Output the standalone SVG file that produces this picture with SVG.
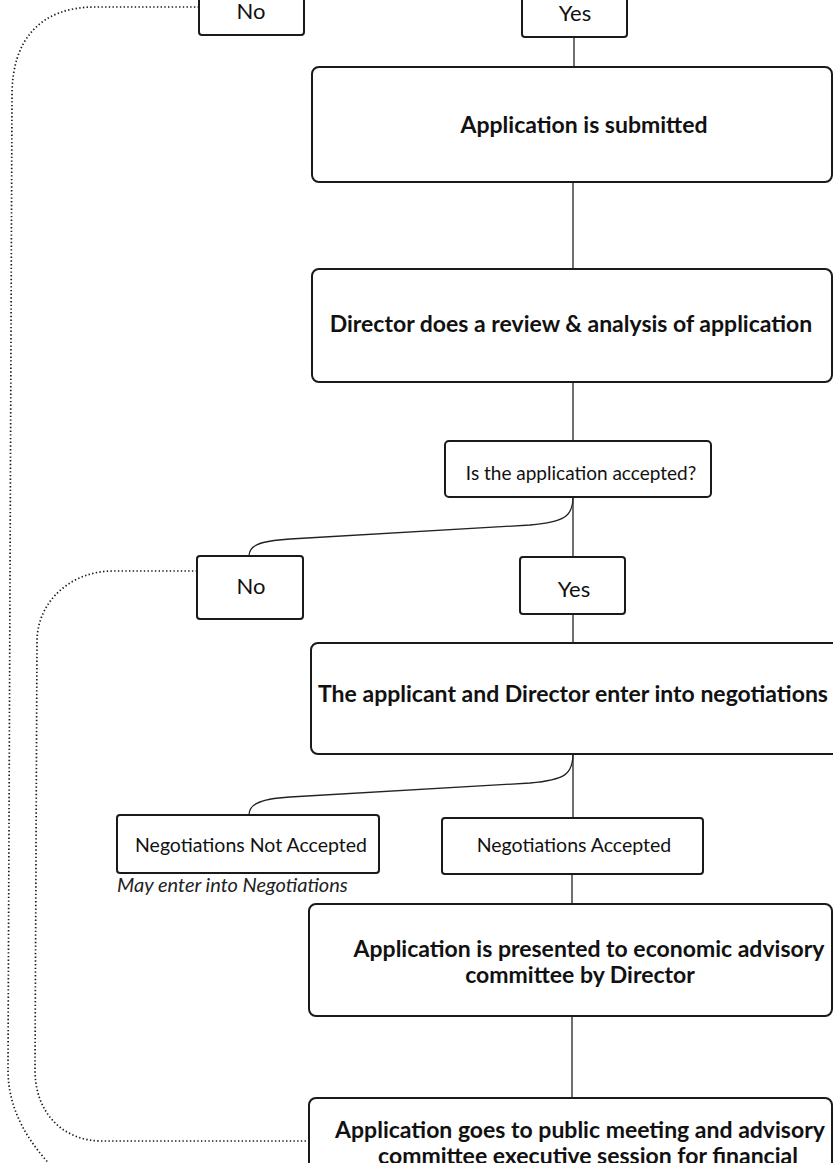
<svg xmlns="http://www.w3.org/2000/svg" width="833" height="1163" viewBox="0 0 833 1163">
<style>
.box{fill:#fff;stroke:#1a1a1a;stroke-width:2}
.conn{fill:none;stroke:#222;stroke-width:1.3}
.dot{fill:none;stroke:#1a1a1a;stroke-width:1.7;stroke-dasharray:1.4 2.3}
.b{font-family:Lato,"Liberation Sans",sans-serif;font-weight:bold;font-size:23px;fill:#111;text-anchor:middle}
.r{font-family:Lato,"Liberation Sans",sans-serif;font-size:19.5px;fill:#111;text-anchor:middle}
.q{font-family:Lato,"Liberation Sans",sans-serif;font-size:19px;fill:#111;text-anchor:middle}
.yn{font-family:Lato,"Liberation Sans",sans-serif;font-size:22px;fill:#111;text-anchor:middle}
.it{font-family:Lato,"Liberation Sans",sans-serif;font-style:italic;font-size:20px;fill:#222}
</style>
<rect width="833" height="1163" fill="#fff"/>
<g id="connectors">
<line class="conn" x1="574" y1="37" x2="574" y2="67"/>
<line class="conn" x1="573" y1="182" x2="573" y2="269"/>
<line class="conn" x1="573" y1="382" x2="573" y2="441"/>
<path class="conn" d="M573,497 C573,516 565,522 530,525 L290,539 C256,541 249,547 249,556"/>
<line class="conn" x1="573" y1="497" x2="573" y2="557"/>
<line class="conn" x1="573" y1="614" x2="573" y2="643"/>
<path class="conn" d="M573,754 C573,774 565,780 530,783 L290,797 C256,799 249,806 249,815"/>
<line class="conn" x1="573" y1="754" x2="573" y2="818"/>
<line class="conn" x1="572" y1="874" x2="572" y2="904"/>
<line class="conn" x1="572" y1="1016" x2="572" y2="1098"/>
<path class="dot" d="M199,7 L95,7 C40,7 12,40 12,95 L8,1070 C8,1110 28,1142 55,1170"/>
<path class="dot" d="M197,571 L113,571 C72,571 38,600 37,640 L35,1070 C35,1112 62,1141 102,1141 L309,1141"/>
</g>
<g id="node-no-top">
<rect class="box" x="199" y="-12" width="105" height="47" rx="3"/>
<text class="yn" x="251" y="19">No</text>
</g>
<g id="node-yes-top">
<rect class="box" x="522" y="-12" width="105" height="49" rx="3"/>
<text class="yn" x="575" y="21">Yes</text>
</g>
<g id="node-submitted">
<rect class="box" x="312" y="67" width="520" height="115" rx="7"/>
<text class="b" x="584" y="133">Application is submitted</text>
</g>
<g id="node-review">
<rect class="box" x="312" y="269" width="520" height="113" rx="7"/>
<text class="b" x="571" y="332">Director does a review &amp; analysis of application</text>
</g>
<g id="node-decision">
<rect class="box" x="445" y="441" width="266" height="56" rx="4"/>
<text class="q" x="581" y="480">Is the application accepted?</text>
</g>
<g id="node-no">
<rect class="box" x="197" y="556" width="106" height="63" rx="3"/>
<text class="yn" x="251" y="594">No</text>
</g>
<g id="node-yes">
<rect class="box" x="520" y="557" width="105" height="57" rx="3"/>
<text class="yn" x="574" y="597">Yes</text>
</g>
<g id="node-negotiations">
<rect class="box" x="311" y="643" width="540" height="111" rx="7"/>
<text class="b" x="573" y="702">The applicant and Director enter into negotiations</text>
</g>
<g id="node-not-accepted">
<rect class="box" x="117" y="815" width="262" height="58" rx="3"/>
<text class="r" x="251" y="852">Negotiations Not Accepted</text>
<text class="it" x="117" y="892">May enter into Negotiations</text>
</g>
<g id="node-accepted">
<rect class="box" x="442" y="818" width="261" height="56" rx="3"/>
<text class="r" x="574" y="852">Negotiations Accepted</text>
</g>
<g id="node-presented">
<rect class="box" x="309" y="904" width="523" height="112" rx="7"/>
<text class="b" x="589" y="957">Application is presented to economic advisory</text>
<text class="b" x="580" y="983">committee by Director</text>
</g>
<g id="node-public">
<rect class="box" x="309" y="1098" width="523" height="90" rx="7"/>
<text class="b" x="580" y="1138">Application goes to public meeting and advisory</text>
<text class="b" x="588" y="1164">committee executive session for financial</text>
</g>
</svg>
